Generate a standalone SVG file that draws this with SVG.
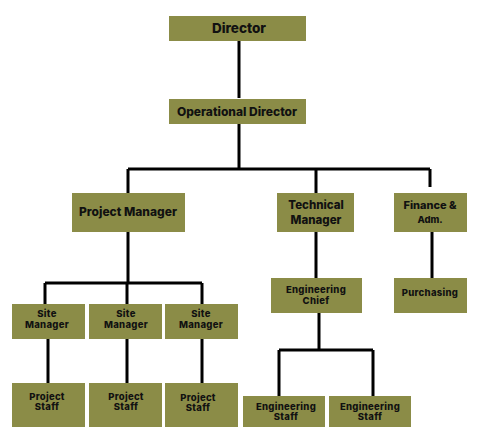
<svg xmlns="http://www.w3.org/2000/svg" width="481" height="436" viewBox="0 0 481 436">
<style>
.box{fill:#8b8c47}
.t{font-family:Inter,"Open Sans","DejaVu Sans",sans-serif;font-weight:800;fill:#111;text-anchor:middle}
.s{font-size:9.5px;letter-spacing:0.3px}
.l{stroke:#000;stroke-width:3;fill:none}
</style>
<rect width="481" height="436" fill="#fff"/>
<g id="connectors">
<path class="l" d="M239 41V98M239 124V169M128 169H430M128 169V193M316 169V193M430 169V187"/>
<path class="l" d="M128 232V283M45 283H202M45 283V304M127 283V304M202 283V304"/>
<path class="l" d="M48 339V383M127 339V383M202 339V383"/>
<path class="l" d="M316 232V278M432 232V278M319 313V350M279 350H373M279 350V396M373 350V396"/>
</g>
<g id="director"><rect class="box" x="169" y="16" width="137" height="25"/><text class="t" x="239" y="33" font-size="13.5">Director</text></g>
<g id="operational-director"><rect class="box" x="169" y="99" width="137" height="25"/><text class="t" x="237" y="116" font-size="12">Operational Director</text></g>
<g id="project-manager"><rect class="box" x="72" y="193" width="113" height="39"/><text class="t" x="128" y="216" font-size="12">Project Manager</text></g>
<g id="technical-manager"><rect class="box" x="277" y="193" width="77" height="39"/><text class="t" x="316" y="209" font-size="11.5">Technical</text><text class="t" x="316" y="224" font-size="11.5">Manager</text></g>
<g id="finance"><rect class="box" x="394" y="193" width="73" height="39"/><text class="t" x="430" y="209" font-size="11">Finance &amp;</text><text class="t" x="430" y="223" font-size="9.5">Adm.</text></g>
<g id="site-manager-1"><rect class="box" x="12" y="304" width="73" height="35"/><text class="t s" x="47" y="317">Site</text><text class="t s" x="47" y="328">Manager</text></g>
<g id="site-manager-2"><rect class="box" x="89" y="304" width="73" height="35"/><text class="t s" x="126" y="317">Site</text><text class="t s" x="126" y="328">Manager</text></g>
<g id="site-manager-3"><rect class="box" x="165" y="304" width="73" height="35"/><text class="t s" x="201" y="317">Site</text><text class="t s" x="201" y="328">Manager</text></g>
<g id="project-staff-1"><rect class="box" x="12" y="383" width="73" height="44"/><text class="t s" x="47" y="400">Project</text><text class="t s" x="47" y="410">Staff</text></g>
<g id="project-staff-2"><rect class="box" x="89" y="383" width="73" height="44"/><text class="t s" x="126" y="400">Project</text><text class="t s" x="126" y="410">Staff</text></g>
<g id="project-staff-3"><rect class="box" x="165" y="383" width="73" height="44"/><text class="t s" x="198" y="401">Project</text><text class="t s" x="198" y="411">Staff</text></g>
<g id="engineering-chief"><rect class="box" x="271" y="278" width="91" height="35"/><text class="t s" x="316" y="293">Engineering</text><text class="t s" x="316" y="304">Chief</text></g>
<g id="purchasing"><rect class="box" x="394" y="278" width="73" height="35"/><text class="t s" x="430" y="296">Purchasing</text></g>
<g id="engineering-staff-1"><rect class="box" x="243" y="396" width="82" height="31"/><text class="t s" x="286" y="410">Engineering</text><text class="t s" x="286" y="420">Staff</text></g>
<g id="engineering-staff-2"><rect class="box" x="329" y="396" width="82" height="31"/><text class="t s" x="370" y="410">Engineering</text><text class="t s" x="370" y="420">Staff</text></g>
</svg>
